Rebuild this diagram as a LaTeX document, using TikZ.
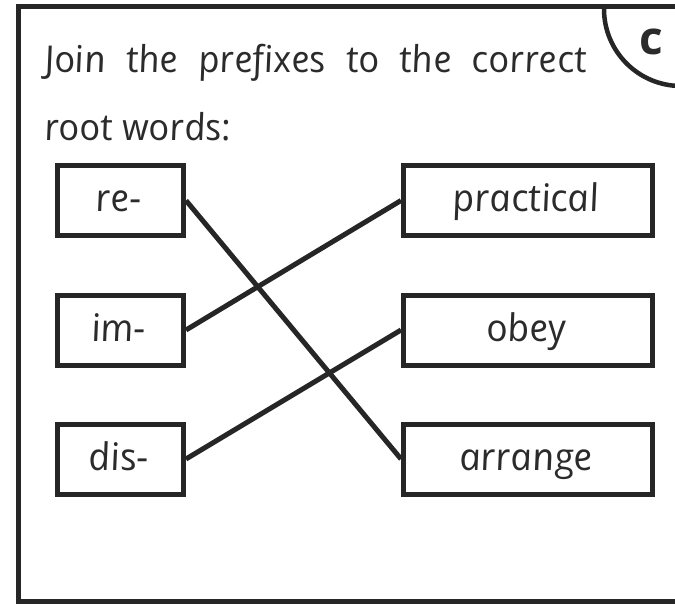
\documentclass[tikz,border=0pt]{standalone}
\usepackage{fontspec}
\setmainfont{Open Sans}
\newfontfamily\twk[FakeSlant=-0.17]{Open Sans Italic}
\definecolor{inkc}{HTML}{262626}
\definecolor{textc}{HTML}{2B2B2B}
\begin{document}
\begin{tikzpicture}[x=1pt,y=-1pt,
  frameline/.style={draw=inkc, line width=5pt},
  wordbox/.style={draw=inkc, line width=5pt, minimum height=70pt, inner sep=0pt,
    text height=30pt, text depth=8pt,
    font=\fontsize{38}{44}\twk, text=textc},
  prebox/.style={wordbox, minimum width=126pt},
  rootbox/.style={wordbox, minimum width=249pt},
  link/.style={draw=inkc, line width=5pt},
  heading/.style={inner sep=0pt, anchor=base west, text=textc,
    font=\fontsize{37}{44}\twk}]
\useasboundingbox (0,0) rectangle (675,603);
\begin{scope}
  \clip (0,0) rectangle (675,603);
  \draw[frameline] (700,6.5) -- (18.5,6.5) -- (18.5,601.5) -- (700,601.5);
\end{scope}
\begin{scope}
  \clip (18.5,6.5) rectangle (675,603);
  \draw[draw=inkc, line width=4.5pt] (681,9) circle[radius=77];
\end{scope}
\node[inner sep=0pt, anchor=base, text=textc, font=\fontsize{46}{46}\selectfont\bfseries] (badge) at (651,54) {c};

\node[heading] (line1) at (46,72) {\makebox[542pt][s]{Join the prefixes to the correct}};
\node[heading] (line2) at (46,140) {root words:};

\node[prebox] (re) at (120.5,200.5) {re-};
\node[prebox] (im) at (120.5,330) {im-};
\node[prebox] (dis) at (120.5,459) {dis-};
\node[rootbox] (practical) at (528,200.5) {practical};
\node[rootbox] (obey) at (528,330) {obey};
\node[rootbox] (arrange) at (528,459) {arrange};

\draw[link] (re.east) -- (arrange.west);
\draw[link] (im.east) -- (practical.west);
\draw[link] (dis.east) -- (obey.west);
\end{tikzpicture}
\end{document}
